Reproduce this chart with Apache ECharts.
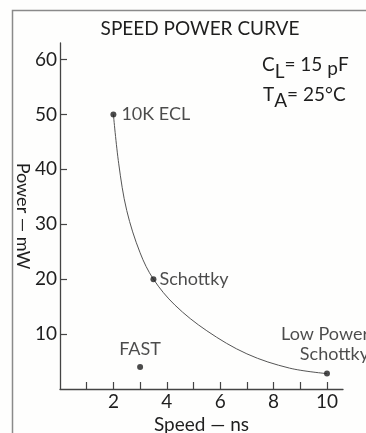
<!DOCTYPE html>
<html>
<head>
<meta charset="utf-8">
<script src="https://cdn.jsdelivr.net/npm/echarts@6/dist/echarts.min.js"></script>
<style>
  html, body { margin: 0; padding: 0; background: #fefefd; }
  #chart { width: 366px; height: 433px; }
</style>
</head>
<body>
<div id="chart"></div>
<script>
// Speed–power trade-off of logic families
const curveSpeed = [2.0, 2.2, 2.5, 3.0, 3.5, 4.3, 5.5, 7.0, 8.6, 10];
const curvePower = [50, 41, 32.5, 24.8, 20, 15.3, 10.6, 6.4, 3.8, 2.8];

const familyNames = ['10K ECL', 'Schottky', 'FAST', 'Low Power\nSchottky'];
const familySpeed = [2, 3.5, 3, 10];
const familyPower = [50, 20, 4, 2.8];

const powerTicks = [10, 20, 30, 40, 50, 60];
const speedTicks = [1, 2, 3, 4, 5, 6, 7, 8, 9, 10];
const speedLabels = [2, 4, 6, 8, 10];

const FONT = 'Lato';
const INK = '#1e1e1e';

const labelPlacement = [
  { position: 'right', distance: 5 },
  { position: 'right', distance: 3 },
  { position: 'top', distance: 6 },
  { position: 'top', distance: 6, align: 'right', offset: [42, 0], lineHeight: 20 }
];

const chart = echarts.init(document.getElementById('chart'), null, { renderer: 'canvas' });

// rich-text styles: normal glyphs and lowered (subscript-like) glyphs
function richStyles(drop) {
  return {
    a: { fontFamily: FONT, fontSize: 19, lineHeight: 24, fill: INK },
    s: { fontFamily: FONT, fontSize: 19, lineHeight: 24, padding: [drop * 2, 0, 0, 0], fill: INK },
    p: { fontFamily: FONT, fontSize: 19, lineHeight: 24, padding: [8, 0, 0, 0], fill: INK }
  };
}

chart.setOption({
  backgroundColor: '#fefefd',
  animation: false,
  textStyle: { fontFamily: FONT, color: INK },
  title: {
    text: 'SPEED POWER CURVE',
    left: 195,
    top: 14,
    textAlign: 'center',
    textStyle: { fontFamily: FONT, fontSize: 19, fontWeight: 'normal', color: INK }
  },
  grid: { left: 60, right: 23, top: 43, bottom: 44, containLabel: false, outerBoundsMode: 'none' },
  xAxis: {
    type: 'value',
    min: 0,
    max: 10.6,
    name: 'Speed — ns',
    nameLocation: 'middle',
    nameGap: 26,
    nameMoveOverlap: false,
    nameTextStyle: { fontFamily: FONT, fontSize: 19, color: INK },
    axisLine: { show: true, onZero: false, lineStyle: { color: '#444', width: 1.3 } },
    axisTick: { show: true, inside: true, length: 7, customValues: speedTicks, lineStyle: { color: '#444', width: 1.2 } },
    axisLabel: { customValues: speedLabels, fontFamily: FONT, fontSize: 19, color: INK, margin: 3 },
    splitLine: { show: false }
  },
  yAxis: {
    type: 'value',
    min: 0,
    max: 63,
    name: 'Power — mW',
    nameLocation: 'middle',
    nameRotate: -90,
    nameGap: 28,
    nameMoveOverlap: false,
    nameTextStyle: { fontFamily: FONT, fontSize: 18, color: INK },
    axisLine: { show: true, onZero: false, lineStyle: { color: '#444', width: 1.3 } },
    axisTick: { show: true, inside: true, length: 7, customValues: powerTicks, lineStyle: { color: '#444', width: 1.2 } },
    axisLabel: { customValues: powerTicks, fontFamily: FONT, fontSize: 19, color: INK, margin: 3 },
    splitLine: { show: false }
  },
  series: [
    {
      type: 'line',
      data: curveSpeed.map((s, i) => [s, curvePower[i]]),
      smooth: 0.35,
      showSymbol: false,
      lineStyle: { color: '#555', width: 1 },
      z: 2
    },
    {
      type: 'scatter',
      symbol: 'circle',
      symbolSize: 6,
      itemStyle: { color: INK },
      z: 3,
      data: familyNames.map((name, i) => ({
        name: name,
        value: [familySpeed[i], familyPower[i]],
        label: Object.assign({
          show: true,
          formatter: name,
          fontFamily: FONT,
          fontSize: 18,
          color: INK
        }, labelPlacement[i])
      }))
    }
  ],
  graphic: [
    {
      type: 'polyline',
      shape: { points: [[12.5, 433], [12.5, 10.5], [366, 10.5]] },
      style: { stroke: '#8a8a8a', lineWidth: 1.5, fill: null },
      silent: true
    },
    {
      type: 'text',
      left: 262,
      top: 48,
      style: {
        text: '{a|C}{s|L}{a|= 15 }{p|p}{a|F}',
        fill: INK,
        rich: richStyles(7)
      }
    },
    {
      type: 'text',
      left: 263,
      top: 79,
      style: {
        text: '{a|T}{s|A}{a|= 25°C}',
        fill: INK,
        rich: richStyles(6)
      }
    }
  ]
});
</script>
</body>
</html>
